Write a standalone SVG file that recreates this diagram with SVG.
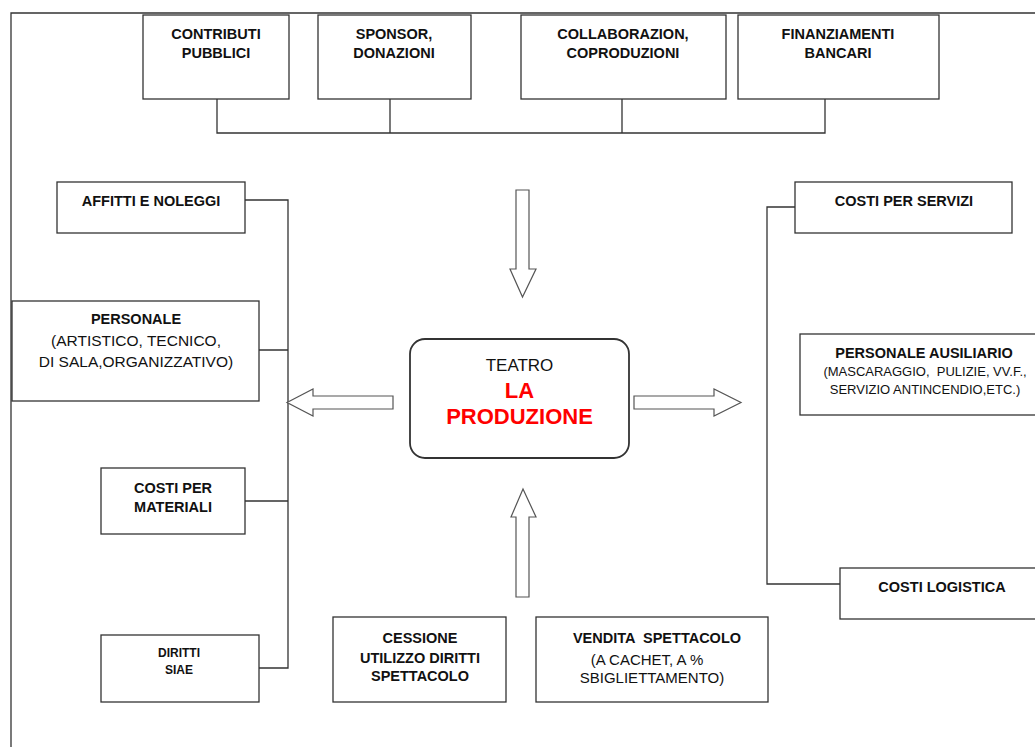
<svg xmlns="http://www.w3.org/2000/svg" width="1035" height="747" viewBox="0 0 1035 747">
<style>
.box{fill:#fff;stroke:#333;stroke-width:1.3}
.ln{fill:none;stroke:#333;stroke-width:1.3}
.ar{fill:#fff;stroke:#555;stroke-width:1.2;stroke-linejoin:miter}
text{font-family:"Liberation Sans",Arial,sans-serif;fill:#111;text-anchor:middle}
.b{font-weight:bold;font-size:14.5px}
.r{font-weight:normal;font-size:15.5px}
.s{font-weight:normal;font-size:13px}
</style>
<rect width="1035" height="747" fill="#fff"/>
<polyline class="ln" points="11,747 11,13 1035,13"/>
<g id="connectors">
<path class="ln" d="M217,99 V133 H825 V99 M390,99 V133 M622,99 V133"/>
<path class="ln" d="M245,200 H288 V668 H259 M259,350 H288 M245,501 H288"/>
<path class="ln" d="M795,207 H767 V584 H840"/>
<polygon class="ar" points="516,190 529,190 529,269 536,269 522.5,297 510,269 516,269"/>
<polygon class="ar" points="523,489 536,517 529,517 529,597 516,597 516,517 511,517"/>
<polygon class="ar" points="287,402.5 313,389 313,396 393,396 393,409 313,409 313,416"/>
<polygon class="ar" points="634,396 714,396 714,389 741,402.5 714,416 714,409 634,409"/>
</g>
<g id="contributi">
<rect class="box" x="143" y="15" width="146" height="84"/>
<text class="b" x="216" y="39">CONTRIBUTI</text>
<text class="b" x="216" y="58">PUBBLICI</text>
</g>
<g id="sponsor">
<rect class="box" x="318" y="15" width="153" height="84"/>
<text class="b" x="394" y="39">SPONSOR,</text>
<text class="b" x="394" y="58">DONAZIONI</text>
</g>
<g id="collaborazion">
<rect class="box" x="521" y="15" width="205" height="84"/>
<text class="b" x="623" y="39">COLLABORAZION,</text>
<text class="b" x="623" y="58">COPRODUZIONI</text>
</g>
<g id="finanziamenti">
<rect class="box" x="738" y="15" width="201" height="84"/>
<text class="b" x="838" y="39">FINANZIAMENTI</text>
<text class="b" x="838" y="58">BANCARI</text>
</g>
<g id="affitti">
<rect class="box" x="57" y="182" width="188" height="51"/>
<text class="b" x="151" y="206">AFFITTI E NOLEGGI</text>
</g>
<g id="personale">
<rect class="box" x="12" y="301" width="247" height="100"/>
<text class="b" x="136" y="324">PERSONALE</text>
<text class="r" x="136" y="346">(ARTISTICO, TECNICO,</text>
<text class="r" x="136" y="367">DI SALA,ORGANIZZATIVO)</text>
</g>
<g id="materiali">
<rect class="box" x="101" y="468" width="144" height="66"/>
<text class="b" x="173" y="493">COSTI PER</text>
<text class="b" x="173" y="512">MATERIALI</text>
</g>
<g id="diritti">
<rect class="box" x="101" y="635" width="158" height="67"/>
<text class="b" x="179" y="657" style="font-size:12px">DIRITTI</text>
<text class="b" x="179" y="674" style="font-size:12px">SIAE</text>
</g>
<g id="produzione">
<rect x="410" y="339" width="219" height="119" rx="15" fill="#fff" stroke="#333" stroke-width="1.8"/>
<text x="519.5" y="371" style="font-size:17px">TEATRO</text>
<text x="519.5" y="398" style="font-size:22px;font-weight:bold;fill:#ff0000">LA</text>
<text x="519.5" y="424" style="font-size:22px;font-weight:bold;fill:#ff0000">PRODUZIONE</text>
</g>
<g id="servizi">
<rect class="box" x="795" y="182" width="217" height="51"/>
<text class="b" x="904" y="206">COSTI PER SERVIZI</text>
</g>
<g id="ausiliario">
<rect class="box" x="800" y="334" width="247" height="81"/>
<text class="b" x="924" y="358">PERSONALE AUSILIARIO</text>
<text class="s" x="925" y="376" xml:space="preserve">(MASCARAGGIO,  PULIZIE, VV.F.,</text>
<text class="s" x="925" y="394">SERVIZIO ANTINCENDIO,ETC.)</text>
</g>
<g id="logistica">
<rect class="box" x="840" y="568" width="204" height="51"/>
<text class="b" x="942" y="592">COSTI LOGISTICA</text>
</g>
<g id="cessione">
<rect class="box" x="333" y="617" width="173" height="85"/>
<text class="b" x="420" y="643">CESSIONE</text>
<text class="b" x="420" y="663">UTILIZZO DIRITTI</text>
<text class="b" x="420" y="681">SPETTACOLO</text>
</g>
<g id="vendita">
<rect class="box" x="536" y="617" width="232" height="85"/>
<text class="b" x="657" y="643" xml:space="preserve">VENDITA  SPETTACOLO</text>
<text class="r" x="647" y="665" style="font-size:15px">(A CACHET, A %</text>
<text class="r" x="652" y="683" style="font-size:15px">SBIGLIETTAMENTO)</text>
</g>
</svg>
